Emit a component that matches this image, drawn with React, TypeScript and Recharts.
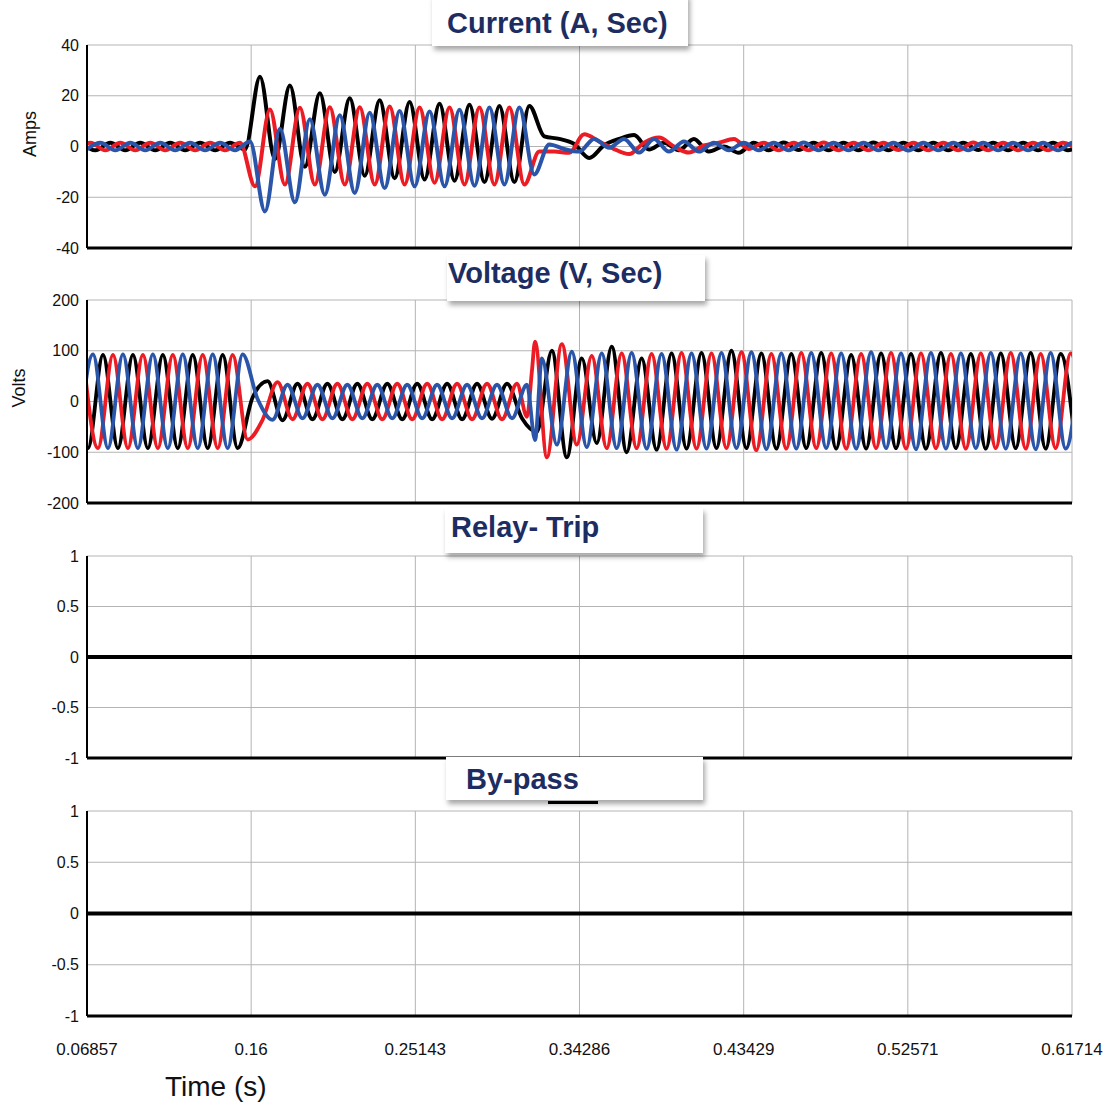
import { CartesianGrid, Line, LineChart, XAxis, YAxis } from 'recharts'

const timeTicks = [0.06857, 0.16, 0.25143, 0.34286, 0.43429, 0.52571, 0.61714]
const ampTicks = [-40, -20, 0, 20, 40]
const voltTicks = [-200, -100, 0, 100, 200]
const stateTicks = [-1, -0.5, 0, 0.5, 1]

// secondary current, one value per half-cycle peak/trough
const curBlack = [
  1.5, -1.5, 1.5, -1.5, 1.5, -1.5, 1.5, -1.5, 1.5, -1.5, 1.5, -1.2,
  27.5, -5, 24, -8, 21, -10, 19, -11.5, 18.2, -12.5, 17.5, -13, 16.8, -13.5, 16.5, -14, 16, -14, 16,
  4, 3, 1, -4.5, 0.5, 3, 4.5, -1.2, 1.5, -1.5, 3, -2, 0, -2.5,
  1.5, -1.5, 1.6, -1.4, 1.5, -1.5, 1.5, -1.5, 1.6, -1.5, 1.5, -1.5, 1.5, -1.5, 1.5, -1.4, 1.5, -1.5, 1.5, -1.5, 1.5, -1.5, 1.5,
]
const curRed = [
  -1.5, 1.5, -1.5, 1.5, -1.5, 1.5, -1.5, 1.5, -1.5, 1.5, -1.5, 1.5,
  -15.7, 14.6, -15, 15.3, -15, 15.5, -15, 15.5, -15, 15.8, -15, 15.4, -14.3, 15.4, -15, 15.4, -15, 15.4, -15,
  -2, -2, -2.5, 4.8, 2, -1, -3, 1.5, 3.5, 0, -2.4, 0.4, 1.5, 3, -1,
  1.5, -1.5, 1.5, -1.5, 1.6, -1.5, 1.5, -1.5, 1.5, -1.4, 1.5, -1.5, 1.5, -1.5, 1.6, -1.5, 1.5, -1.5, 1.5, -1.5, 1.5, -1.5,
]
const curBlue = [
  -1.5, 1.5, -1.5, 1.5, -1.5, 1.5, -1.5, 1.5, -1.5, 1.5, -1.5, 2,
  -25.6, 7, -22, 10.7, -19, 12.3, -18.3, 13.3, -16.4, 14, -15.7, 13.8, -15.7, 14.5, -15.5, 15.4, -15, 15.4, -11,
  0.8, -1, -2, 3, -0.5, 3, -2.4, 3, -2, 2, -2, 1.5,
  -1.5, 1.5, -1.5, 1.5, -1.5, 1.6, -1.5, 1.5, -1.5, 1.5, -1.5, 1.5, -1.6, 1.5, -1.5, 1.5, -1.5, 1.5, -1.5, 1.5, -1.5, 1.5, -1.5, 1.5, -1.5,
]

// secondary voltage, same half-cycle peaks
const voltBlack = [
  92, -92, 92, -92, 92, -92, 92, -92, 92, -92, 92, -92,
  8, 40, -37, 35, -35, 35, -35, 35, -35, 35, -35, 35, -35, 35, -35, 35, -34, 35, -33,
  -60, 100, -110, 85, -82, 108, -100, 85, -95, 95,
  -93, 96, -92, 100, -92, 95, -93, 94, -92, 96, -93, 92, -93, 95, -92, 94, -93, 96, -92, 94, -93, 95, -92, 96, -93, 94, -92,
]
const voltBlue = [
  -92, 93, -92, 93, -92, 93, -92, 93, -92, 93, -92, 93,
  5, -36, 33, -33, 33, -33, 33, -33, 33, -33, 33, -33, 33, -33, 33, -33, 33, -33, 33,
  85, -85, 98, -90, 95, -92, 96, -93, 94, -95,
  95, -93, 96, -92, 97, -94, 95, -93, 96, -92, 95, -93, 97, -92, 95, -94, 96, -93, 95, -92, 96, -93, 95, -94, 96, -93, 95,
]
const voltRed = [
  92, -92, 92, -92, 92, -92, 92, -92, 92, -92, 92, -75,
  -36, 38, -35, 35, -35, 35, -35, 35, -35, 35, -35, 35, -35, 35, -35, 35, -35, 35, 60,
  -110, 113, -85, 90, -92, 95, -92, 94, -93, 96,
  -93, 95, -92, 97, -96, 94, -93, 96, -92, 95, -93, 94, -92, 96, -93, 95, -92, 94, -93, 95, -92, 96, -93, 94, -92, 95, -93,
]
// switching spikes when the fault clears: [time s, volts]
const voltRedSpikes = [[0.3136, -30], [0.3181, 118]]
const voltBlueSpikes = [[0.3181, -76]]

// relay outputs stay at 0 for the whole record
const relayTrip = [0, 0]
const bypass = [0, 0]

// peaks of one phase come every 1/120 s, the three phases sit 1/360 s apart
const step = 1 / 360
const curStart = 0.06213
const voltStart = 0.060801

type Pt = { t: number; v: number }
const toPoints = (vals: number[], start: number, phase: number, extra: number[][] = []): Pt[] =>
  vals
    .map((v, i) => ({ t: start + (phase + 3 * i) * step, v }))
    .concat(extra.map(([t, v]) => ({ t, v })))
    .sort((a, b) => a.t - b.t)
const flat = (vals: number[]) => vals.map((v, i) => ({ t: timeTicks[i * (timeTicks.length - 1)], v }))

const BLACK = '#000000'
const RED = '#ec1c24'
const BLUE = '#2b55a8'
const font = '"Liberation Sans", Arial, sans-serif'

const NoTick = () => <g />

type Series = { name: string; color: string; width: number; data: Pt[] }

function Panel(props: {
  top: number
  height: number
  marginTop: number
  domain: [number, number]
  ticks: number[]
  series: Series[]
  bottom?: boolean
}) {
  const { top, height, marginTop, domain, ticks, series, bottom } = props
  return (
    <div style={{ position: 'absolute', left: 0, top }}>
      <LineChart width={1109} height={height} margin={{ top: marginTop, right: 37, bottom: bottom ? 5 : 0, left: 27 }}>
        <CartesianGrid stroke="#b4b4b4" strokeWidth={1} />
        <XAxis
          type="number"
          dataKey="t"
          domain={[0.06857, 0.61714]}
          ticks={timeTicks}
          interval={0}
          allowDataOverflow
          height={bottom ? 40 : 20}
          tick={bottom ? { fontSize: 17, fill: '#111', fontFamily: font } : NoTick}
          tickLine={false}
          tickMargin={21}
          axisLine={{ stroke: '#000', strokeWidth: 3 }}
        />
        <YAxis
          type="number"
          domain={domain}
          ticks={ticks}
          interval={0}
          allowDataOverflow
          width={60}
          tickLine={false}
          axisLine={{ stroke: '#000', strokeWidth: 2 }}
          tick={{ fontSize: 16, fill: '#111', fontFamily: font }}
        />
        {series.map((s) => (
          <Line
            key={s.name}
            data={s.data}
            dataKey="v"
            type="monotone"
            stroke={s.color}
            strokeWidth={s.width}
            dot={false}
            connectNulls
            isAnimationActive={false}
          />
        ))}
      </LineChart>
    </div>
  )
}

function Title({ box, text, x, y }: { box: [number, number, number, number]; text: string; x: number; y: number }) {
  return (
    <>
      <div
        style={{
          position: 'absolute',
          left: box[0],
          top: box[1],
          width: box[2],
          height: box[3],
          background: '#fff',
          boxShadow: '2px 4px 5px rgba(0,0,0,0.35)',
        }}
      />
      <div
        style={{
          position: 'absolute',
          left: x,
          top: y - 24.5,
          fontFamily: font,
          fontWeight: 'bold',
          fontSize: 29,
          lineHeight: '29px',
          color: '#1d2d61',
          whiteSpace: 'nowrap',
        }}
      >
        {text}
      </div>
    </>
  )
}

function Rotated({ text, x, y }: { text: string; x: number; y: number }) {
  return (
    <div
      style={{
        position: 'absolute',
        left: x,
        top: y,
        transform: 'translate(-50%, -50%) rotate(-90deg)',
        fontFamily: font,
        fontSize: 18,
        color: '#111',
        whiteSpace: 'nowrap',
      }}
    >
      {text}
    </div>
  )
}

export default function App() {
  const current: Series[] = [
    { name: 'black', color: BLACK, width: 4, data: toPoints(curBlack, curStart, 1) },
    { name: 'red', color: RED, width: 4, data: toPoints(curRed, curStart, 0) },
    { name: 'blue', color: BLUE, width: 4, data: toPoints(curBlue, curStart, 2) },
  ]
  const voltage: Series[] = [
    { name: 'black', color: BLACK, width: 3.8, data: toPoints(voltBlack, voltStart, 0) },
    { name: 'red', color: RED, width: 3.8, data: toPoints(voltRed, voltStart, 2, voltRedSpikes) },
    { name: 'blue', color: BLUE, width: 3.8, data: toPoints(voltBlue, voltStart, 1, voltBlueSpikes) },
  ]
  return (
    <div style={{ position: 'absolute', left: 0, top: 0, width: 1109, height: 1106, background: '#fff', overflow: 'hidden' }}>
      <Panel top={0} height={268} marginTop={45} domain={[-40, 40]} ticks={ampTicks} series={current} />
      <Panel top={250} height={273} marginTop={50} domain={[-200, 200]} ticks={voltTicks} series={voltage} />
      <Panel
        top={505}
        height={273}
        marginTop={51}
        domain={[-1, 1]}
        ticks={stateTicks}
        series={[{ name: 'trip', color: BLACK, width: 4, data: flat(relayTrip) }]}
      />
      <Panel
        top={760}
        height={301}
        marginTop={51}
        domain={[-1, 1]}
        ticks={stateTicks}
        series={[{ name: 'bypass', color: BLACK, width: 4, data: flat(bypass) }]}
        bottom
      />
      <Rotated text="Amps" x={30} y={134} />
      <Rotated text="Volts" x={19} y={388} />
      <Title box={[432, -6, 256, 52]} text="Current (A, Sec)" x={447} y={33} />
      <Title box={[447, 255, 258, 46]} text="Voltage (V, Sec)" x={448} y={283} />
      <Title box={[445, 508, 258, 45]} text="Relay- Trip" x={451} y={537} />
      <Title box={[446, 757, 257, 43]} text="By-pass" x={466} y={789} />
      <div style={{ position: 'absolute', left: 548, top: 801, width: 50, height: 3, background: '#000' }} />
      <div
        style={{
          position: 'absolute',
          left: 165,
          top: 1097 - 23.7,
          fontFamily: font,
          fontSize: 28,
          lineHeight: '28px',
          color: '#111',
          whiteSpace: 'nowrap',
        }}
      >
        Time (s)
      </div>
    </div>
  )
}
